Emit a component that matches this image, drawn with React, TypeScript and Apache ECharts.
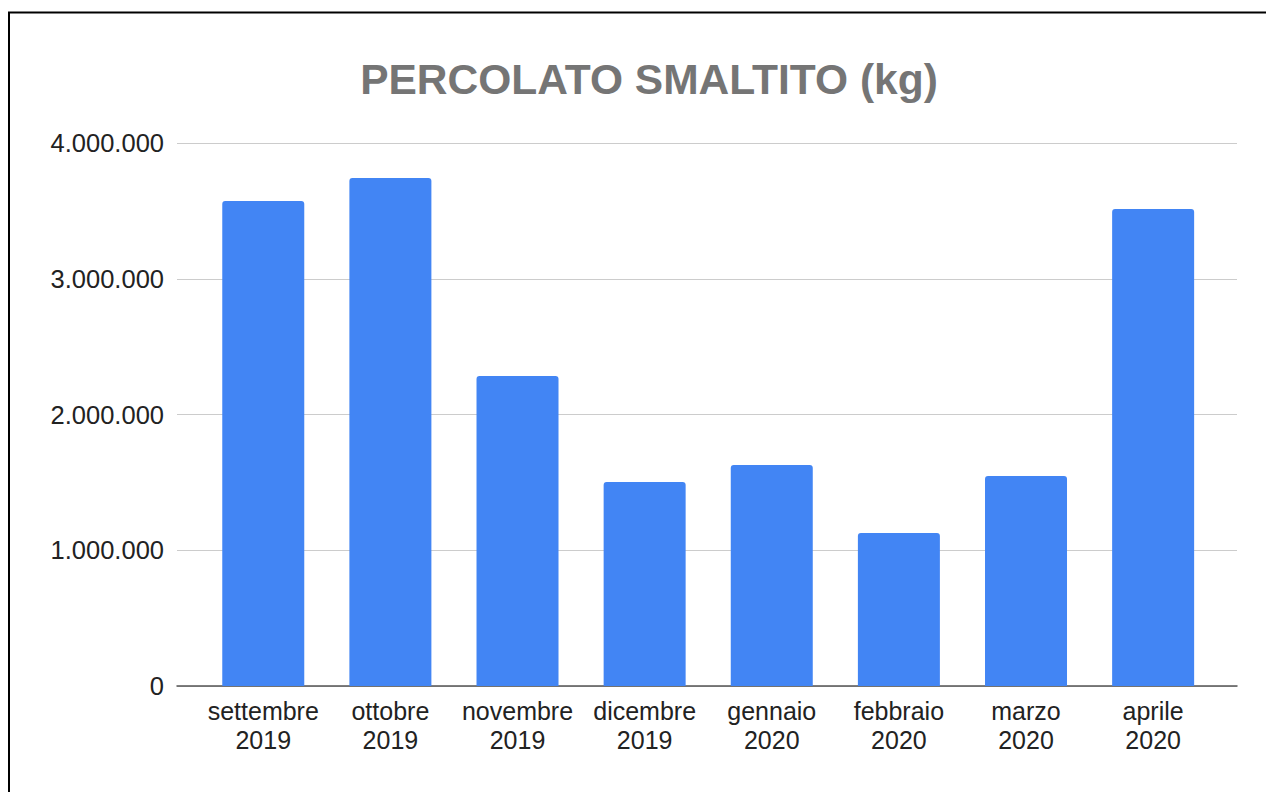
import React, { useEffect, useRef } from "react";
import * as echarts from "echarts";

const categories = [
  "settembre\n2019",
  "ottobre\n2019",
  "novembre\n2019",
  "dicembre\n2019",
  "gennaio\n2020",
  "febbraio\n2020",
  "marzo\n2020",
  "aprile\n2020",
];
const values = [3573000, 3742000, 2284000, 1503000, 1628000, 1127000, 1547000, 3514000];
const yTicks = [0, 1000000, 2000000, 3000000, 4000000];
const titleText = "PERCOLATO SMALTITO (kg)";

const FONT = "'Liberation Sans', Arial, sans-serif";

function fmt(v: number): string {
  return String(Math.round(v)).replace(/\B(?=(\d{3})+(?!\d))/g, ".");
}

export default function App() {
  const ref = useRef<HTMLDivElement>(null);
  useEffect(() => {
    if (!ref.current) return;
    const chart = echarts.init(ref.current, undefined, { renderer: "svg" });
    const yMax = yTicks[yTicks.length - 1];
    const yInterval = yTicks[1] - yTicks[0];
    chart.setOption({
      animation: false,
      backgroundColor: "#ffffff",
      title: {
        text: titleText,
        left: 644,
        textAlign: "center",
        top: 53,
        textStyle: { fontFamily: FONT, fontSize: 42.5, fontWeight: "bold", color: "#757575" },
      },
      graphic: [
        {
          type: "rect",
          shape: { x: 9, y: 12.5, width: 2000, height: 2000 },
          style: { fill: "none", stroke: "#000000", lineWidth: 2 },
          silent: true,
          z: 100,
        },
      ],
      grid: [
        { left: 177, right: 29, top: 143, bottom: 106, containLabel: false },
        { left: 199.7, right: 49.3, top: 143, bottom: 106, containLabel: false },
      ],
      xAxis: [
        {
          type: "category",
          gridIndex: 0,
          data: categories,
          axisLine: { show: true, lineStyle: { color: "#555555", width: 1.5 } },
          axisTick: { show: false },
          axisLabel: { show: false },
          splitLine: { show: false },
        },
        {
          type: "category",
          gridIndex: 1,
          data: categories,
          axisLine: { show: false },
          axisTick: { show: false },
          axisLabel: {
            show: true,
            interval: 0,
            margin: 10,
            fontFamily: FONT,
            fontSize: 25,
            lineHeight: 29,
            color: "#222222",
          },
        },
      ],
      yAxis: [
        {
          type: "value",
          gridIndex: 0,
          min: 0,
          max: yMax,
          interval: yInterval,
          axisLine: { show: false },
          axisTick: { show: false },
          axisLabel: {
            margin: 13,
            fontFamily: FONT,
            fontSize: 25.5,
            color: "#222222",
            formatter: (v: number) => fmt(v),
          },
          splitLine: { show: true, lineStyle: { color: "#cccccc", width: 1 } },
        },
        {
          type: "value",
          gridIndex: 1,
          min: 0,
          max: yMax,
          interval: yInterval,
          show: false,
          splitLine: { show: false },
        },
      ],
      series: [
        {
          type: "bar",
          xAxisIndex: 1,
          yAxisIndex: 1,
          data: values,
          barWidth: 82,
          itemStyle: { color: "#4285F4", borderRadius: [3, 3, 0, 0] },
          z: 3,
        },
      ],
    });
    return () => chart.dispose();
  }, []);
  return (
    <div
      ref={ref}
      style={{ position: "absolute", left: 0, top: 0, width: 1266, height: 792 }}
    />
  );
}
